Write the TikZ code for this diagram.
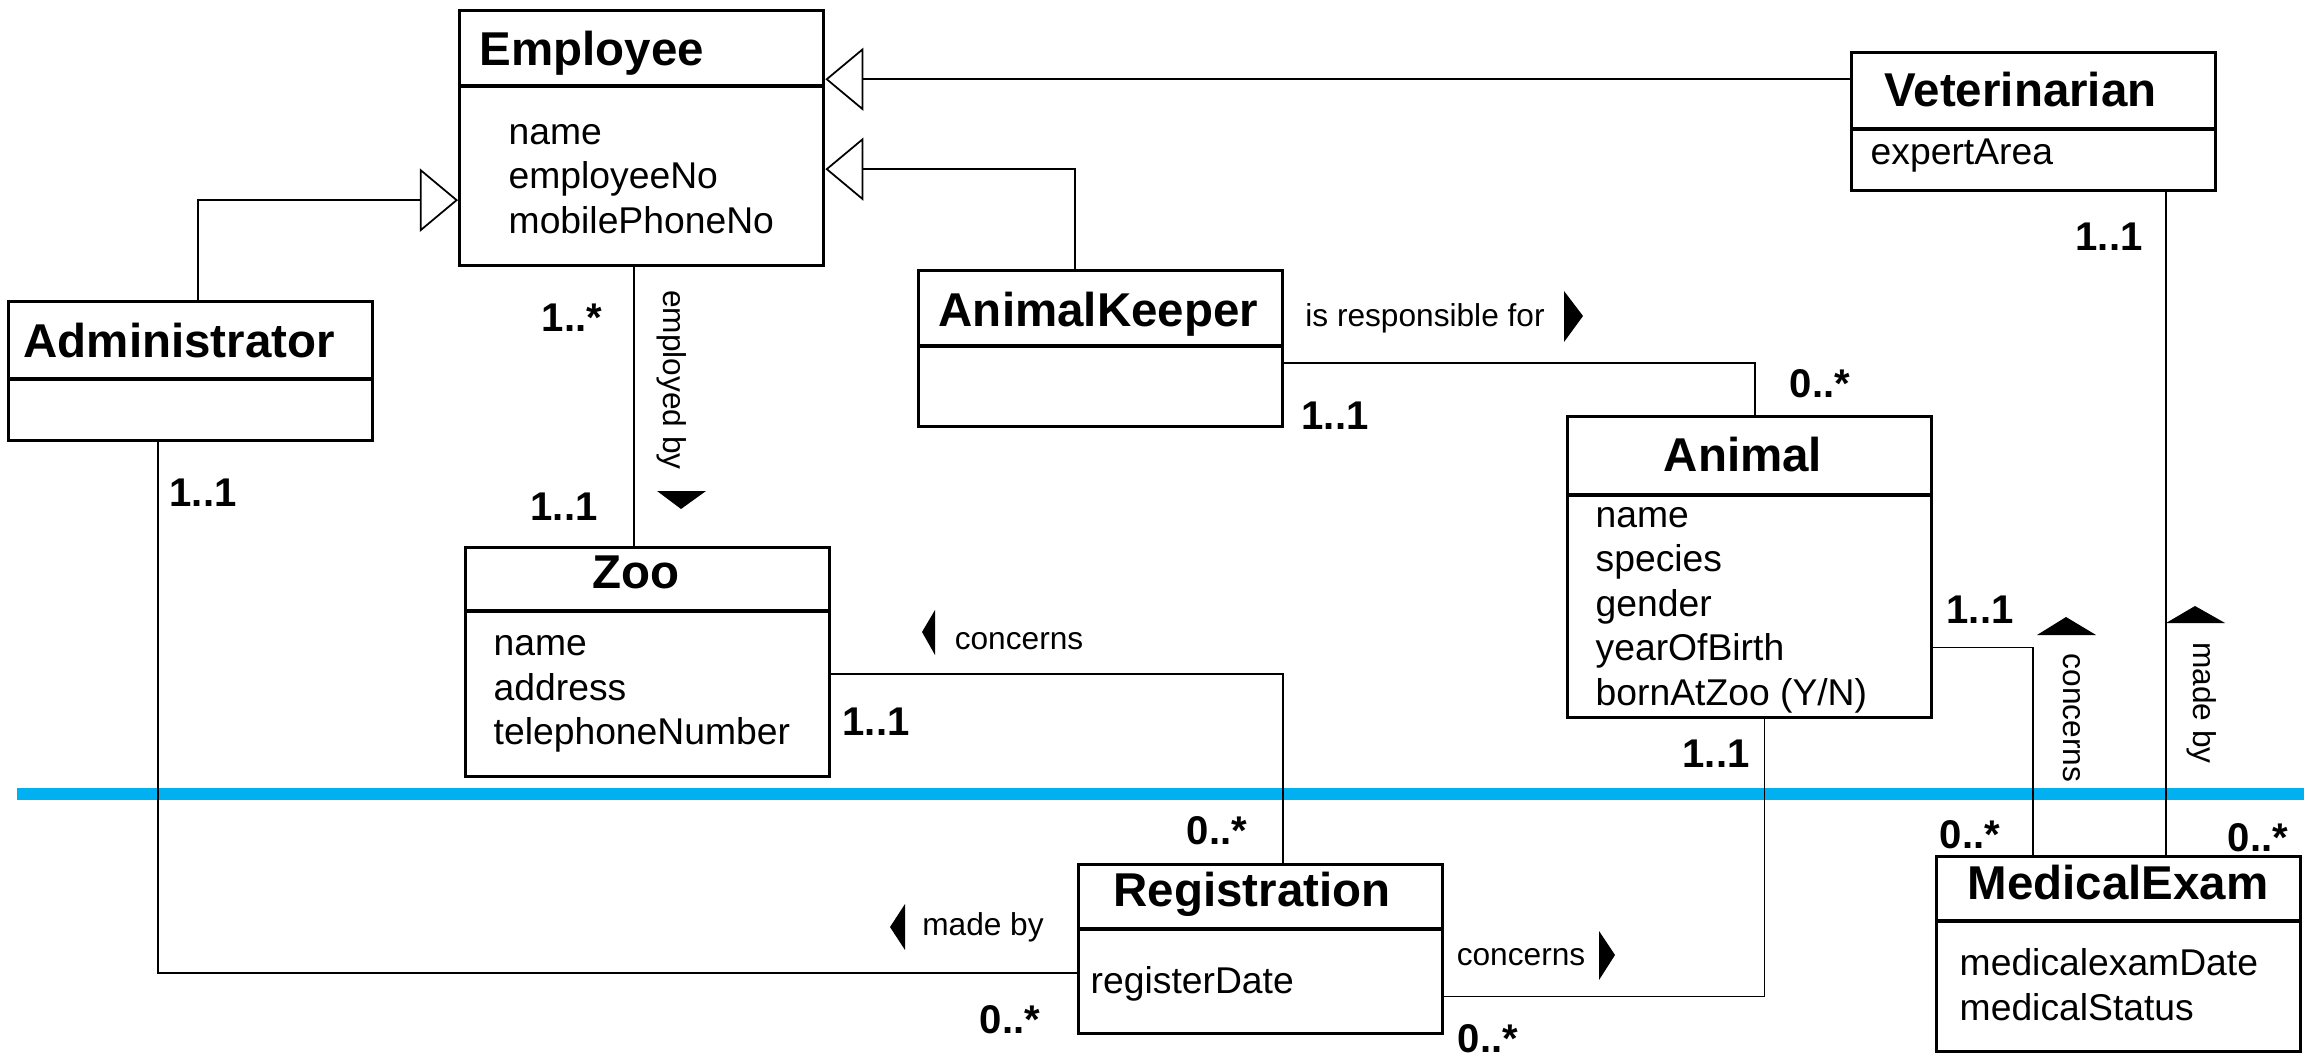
\documentclass[tikz,border=0pt]{standalone}
\usepackage{fontspec}
\setmainfont{Liberation Sans}
\usetikzlibrary{arrows.meta,calc}
\definecolor{sepblue}{RGB}{0,176,240}

\tikzset{
	cls/.style={draw, line width=0.9pt, minimum width=3.64cm, inner sep=0, anchor=north west},
	clsline/.style={line width=0.9pt},
	clsname/.style={font=\fontsize{13.5}{16}\selectfont\bfseries, inner sep=0},
	attr/.style={font=\fontsize{10.6}{12}\selectfont, inner sep=0, anchor=base west},
	mult/.style={font=\fontsize{11.4}{14}\selectfont\bfseries, inner sep=0},
	assoc/.style={font=\fontsize{9}{11}\selectfont, inner sep=0},
	link/.style={line width=0.5pt},
	gen/.style={line width=0.5pt, -{Triangle[open, length=0.38cm, width=0.63cm]}},
	dirmark/.style={fill=black}
}

\begin{document}
	\begin{tikzpicture}[x=0.01cm, y=-0.01cm]
		\path [fill=white] ( 0, 0 ) rectangle ( 2304, 1058 );
		\useasboundingbox ( 0, 0 ) rectangle ( 2304, 1058 );

		% граница
		\draw [sepblue, line width=0.12cm] ( 17, 794 ) -- ( 2304, 794 );

		% Employee
		\node [cls, minimum height=2.55cm] (emp) at ( 458, 9 ) {};
		\draw [clsline] ( $(emp.north west)+(0,77)$ ) -- ( $(emp.north east)+(0,77)$ );
		\node [clsname, anchor=base west] (empT) at ( 479, 66 ) {Employee};
		\node [attr] (empA1) at ( 508, 145 ) {name};
		\node [attr] (empA2) at ( 508, 189 ) {employeeNo};
		\node [attr] (empA3) at ( 508, 234 ) {mobilePhoneNo};

		% Administrator
		\node [cls, minimum height=1.39cm] (adm) at ( 7, 300 ) {};
		\draw [clsline] ( $(adm.north west)+(0,79)$ ) -- ( $(adm.north east)+(0,79)$ );
		\node [clsname, anchor=base west] (admT) at ( 23, 357 ) {Administrator};

		% AnimalKeeper
		\node [cls, minimum height=1.56cm] (keeper) at ( 917, 269 ) {};
		\draw [clsline] ( $(keeper.north west)+(0,77)$ ) -- ( $(keeper.north east)+(0,77)$ );
		\node [clsname, anchor=base west] (keeperT) at ( 938, 327 ) {AnimalKeeper};

		% Veterinarian
		\node [cls, minimum height=1.38cm] (vet) at ( 1850, 51 ) {};
		\draw [clsline] ( $(vet.north west)+(0,78)$ ) -- ( $(vet.north east)+(0,78)$ );
		\node [clsname, anchor=base west] (vetT) at ( 1884, 107 ) {Veterinarian};
		\node [attr] (vetA1) at ( 1870, 165 ) {expertArea};

		% Animal
		\node [cls, minimum height=3.01cm] (animal) at ( 1566, 415 ) {};
		\draw [clsline] ( $(animal.north west)+(0,80)$ ) -- ( $(animal.north east)+(0,80)$ );
		\node [clsname, anchor=base] (animalT) at ( 1743, 471 ) {Animal};
		\node [attr] (animalA1) at ( 1595, 527 ) {name};
		\node [attr] (animalA2) at ( 1595, 571 ) {species};
		\node [attr] (animalA3) at ( 1595, 616 ) {gender};
		\node [attr] (animalA4) at ( 1595, 660 ) {yearOfBirth};
		\node [attr] (animalA5) at ( 1595, 705 ) {bornAtZoo (Y/N)};

		% Zoo
		\node [cls, minimum height=2.29cm] (zoo) at ( 464, 546 ) {};
		\draw [clsline] ( $(zoo.north west)+(0,65)$ ) -- ( $(zoo.north east)+(0,65)$ );
		\node [clsname, anchor=base] (zooT) at ( 636, 588 ) {Zoo};
		\node [attr] (zooA1) at ( 493, 655 ) {name};
		\node [attr] (zooA2) at ( 493, 700 ) {address};
		\node [attr] (zooA3) at ( 493, 744 ) {telephoneNumber};

		% Registration
		\node [cls, minimum height=1.69cm] (reg) at ( 1077, 863 ) {};
		\draw [clsline] ( $(reg.north west)+(0,66)$ ) -- ( $(reg.north east)+(0,66)$ );
		\node [clsname, anchor=base] (regT) at ( 1252, 906 ) {Registration};
		\node [attr] (regA1) at ( 1090, 993 ) {registerDate};

		% MedicalExam
		\node [cls, minimum height=1.95cm] (exam) at ( 1935, 855 ) {};
		\draw [clsline] ( $(exam.north west)+(0,66)$ ) -- ( $(exam.north east)+(0,66)$ );
		\node [clsname, anchor=base] (examT) at ( 2118, 899 ) {MedicalExam};
		\node [attr] (examA1) at ( 1959, 975 ) {medicalexamDate};
		\node [attr] (examA2) at ( 1959, 1020 ) {medicalStatus};

		% наследование
		\draw [gen] ( $(vet.north west)!0.2!(vet.south west)$ ) coordinate (g1) -- (g1 -| emp.east);
		\draw [gen] ( $(keeper.north west)!0.43!(keeper.north east)$ ) |- ( $(emp.north east)!0.62!(emp.south east)$ );
		\draw [gen] ( $(adm.north west)!0.52!(adm.north east)$ ) |- ( $(emp.north west)!0.74!(emp.south west)$ );

		% employed by
		\draw [link] ( $(emp.south west)!0.48!(emp.south east)$ ) coordinate (e1) -- (e1 |- zoo.north);
		\node [mult] (m1) at ( 572, 318 ) {1..*};
		\node [mult] (m2) at ( 564, 507 ) {1..1};
		\node [assoc, rotate=-90] (n1) at ( 672, 380 ) {employed by};
		\fill [dirmark] ( 657, 491 ) -- ( 706, 491 ) -- ( 681, 509 ) -- cycle;

		% is responsible for
		\draw [link] ( $(keeper.north east)!0.59!(keeper.south east)$ ) -| ( $(animal.north west)!0.515!(animal.north east)$ );
		\node [mult] (m3) at ( 1335, 416 ) {1..1};
		\node [mult] (m4) at ( 1820, 384 ) {0..*};
		\node [assoc] (n2) at ( 1425, 318 ) {is responsible for};
		\fill [dirmark] ( 1564, 291 ) -- ( 1564, 342 ) -- ( 1583, 316 ) -- cycle;

		% Zoo -- Registration
		\draw [link] ( $(zoo.north east)!0.55!(zoo.south east)$ ) -| ( $(reg.north west)!0.56!(reg.north east)$ );
		\node [mult] (m5) at ( 876, 722 ) {1..1};
		\node [mult] (m6) at ( 1217, 831 ) {0..*};
		\node [assoc] (n3) at ( 1019, 641 ) {concerns};
		\fill [dirmark] ( 935, 610 ) -- ( 935, 655 ) -- ( 922, 632 ) -- cycle;

		% Administrator -- Registration
		\draw [link] ( $(adm.south west)!0.41!(adm.south east)$ ) |- ( $(reg.north west)!0.64!(reg.south west)$ );
		\node [mult] (m7) at ( 203, 493 ) {1..1};
		\node [mult] (m8) at ( 1010, 1020 ) {0..*};
		\node [assoc] (n4) at ( 983, 927 ) {made by};
		\fill [dirmark] ( 905, 904 ) -- ( 905, 950 ) -- ( 890, 927 ) -- cycle;

		% Registration -- Animal
		\draw [link] ( $(reg.north east)!0.775!(reg.south east)$ ) -| ( $(animal.south west)!0.54!(animal.south east)$ );
		\node [mult] (m9) at ( 1716, 754 ) {1..1};
		\node [mult] (m10) at ( 1488, 1039 ) {0..*};
		\node [assoc] (n5) at ( 1521, 957 ) {concerns};
		\fill [dirmark] ( 1599, 931 ) -- ( 1599, 980 ) -- ( 1615, 955 ) -- cycle;

		% Animal -- MedicalExam
		\draw [link] ( $(animal.north east)!0.764!(animal.south east)$ ) -| ( $(exam.north west)!0.267!(exam.north east)$ );
		\node [mult] (m11) at ( 1980, 610 ) {1..1};
		\node [mult] (m12) at ( 1970, 835 ) {0..*};
		\node [assoc, rotate=-90] (n6) at ( 2072, 718 ) {concerns};
		\fill [dirmark] ( 2037, 635 ) -- ( 2096, 635 ) -- ( 2066, 617 ) -- cycle;

		% Veterinarian -- MedicalExam
		\draw [link] ( $(vet.south west)!0.86!(vet.south east)$ ) coordinate (v2) -- (v2 |- exam.north);
		\node [mult] (m13) at ( 2109, 237 ) {1..1};
		\node [mult] (m14) at ( 2258, 838 ) {0..*};
		\node [assoc, rotate=-90] (n7) at ( 2202, 703 ) {made by};
		\fill [dirmark] ( 2166, 623 ) -- ( 2225, 623 ) -- ( 2195, 606 ) -- cycle;
	\end{tikzpicture}
\end{document}
